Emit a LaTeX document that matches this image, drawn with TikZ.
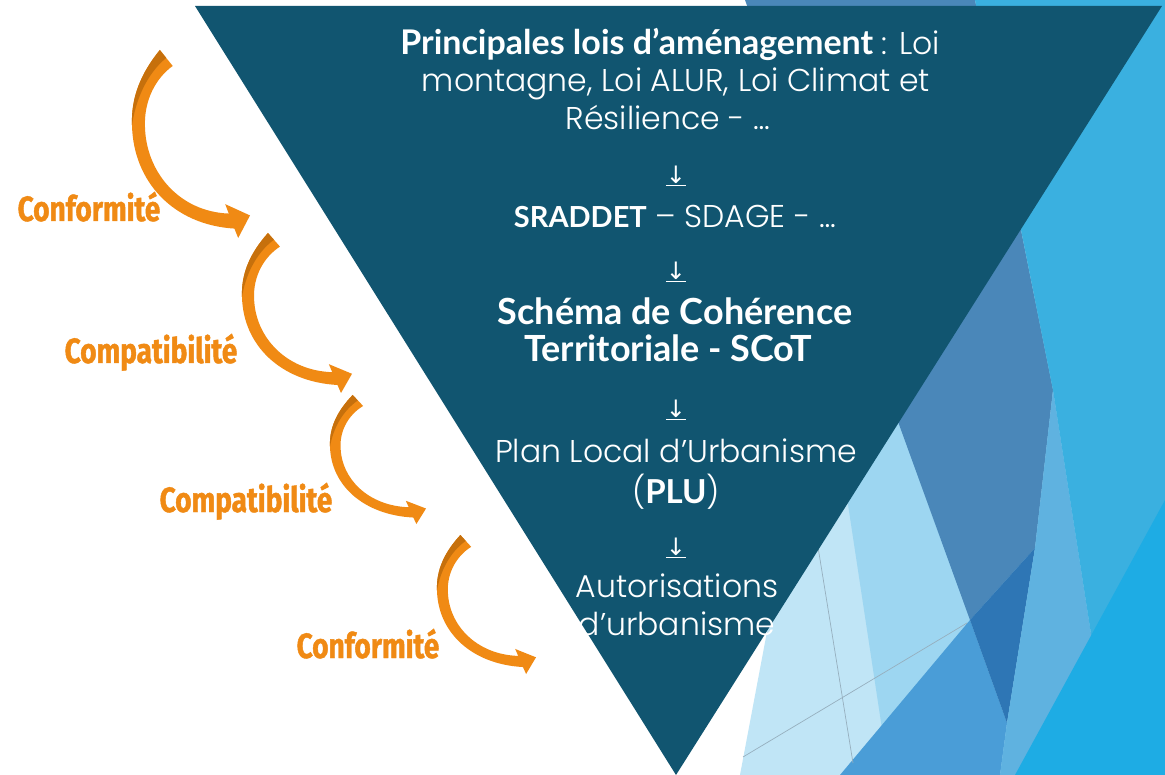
\documentclass[tikz,border=0pt]{standalone}
\usepackage{fontspec}
\setmainfont{Poppins Light}
\newfontfamily\boldf{Lato}
\newfontfamily\condfont[FakeStretch=0.8,FakeBold=1.2]{Fira Sans}
\newfontfamily\dejavu{DejaVu Sans}
\definecolor{darktri}{RGB}{17,85,112}
\definecolor{arrorange}{RGB}{240,138,20}
\definecolor{arrdark}{RGB}{198,112,12}
\definecolor{steel}{RGB}{74,135,185}
\definecolor{baseblue}{RGB}{58,176,224}
\definecolor{brightblue}{RGB}{30,172,228}
\definecolor{paleblue}{RGB}{192,229,246}
\definecolor{lightblue}{RGB}{157,214,241}
\definecolor{midblue}{RGB}{74,157,215}
\definecolor{deepblue}{RGB}{46,118,181}
\definecolor{midlight}{RGB}{95,178,224}
\definecolor{thinline}{RGB}{150,175,190}
\newcommand{\bld}[2]{{\boldf\bfseries\fontsize{#1}{40}\selectfont #2}}
\tikzset{
  curvarrow/.pic={
    \fill[arrorange] (0.236,0) .. controls (0.08,0.12) and (-0.01,0.25) .. (0,0.40)
      .. controls (0.01,0.70) and (0.35,0.93) .. (0.868,0.95) -- (0.9,1.0) -- (1,0.88)
      -- (0.79,0.82) -- (0.82,0.87) .. controls (0.40,0.86) and (0.12,0.65) .. (0.11,0.41)
      .. controls (0.10,0.27) and (0.2,0.15) .. (0.345,0.085) -- cycle;
    \fill[arrdark] (0.236,0) .. controls (0.08,0.12) and (-0.01,0.25) .. (0,0.40)
      .. controls (0.03,0.27) and (0.12,0.13) .. (0.29,0.042) -- cycle;
  },
  lab/.style={anchor=base, text=arrorange, inner sep=0pt, font=\condfont\bfseries\fontsize{35}{40}\selectfont},
  txt/.style={anchor=base, text=white, inner sep=0pt, font=\fontsize{31.5}{38}\selectfont},
  btxt/.style={anchor=base, text=white, inner sep=0pt, font=\boldf\bfseries\fontsize{36}{42}\selectfont},
  darrow/.style={text=white, inner sep=0pt, font=\dejavu\fontsize{24}{28}\selectfont}
}
\begin{document}
\begin{tikzpicture}[x=1pt,y=-1pt]
\useasboundingbox (0,0) rectangle (1165,775);
\fill[white] (0,0) rectangle (1165,775);
% background facets
\fill[paleblue] (740,775) -- (886,0) -- (1165,0) -- (1165,775) -- cycle;
\fill[lightblue] (817,300) -- (1100,300) -- (1100,775) -- (889,775) -- cycle;
\fill[steel] (745,0) -- (975,0) -- (1053,390) -- (1035,548) -- (970,620) -- cycle;
\fill[midblue] (840,775) -- (970,620) -- (1007,723) -- (1000,775) -- cycle;
\fill[deepblue] (970,620) -- (1035,548) -- (1007,723) -- cycle;
\fill[midlight] (1053,390) -- (1113,775) -- (1000,775) -- (1007,723) -- (1035,548) -- cycle;
\fill[baseblue] (975,0) -- (1165,0) -- (1165,775) -- (1113,775) -- (1053,390) -- cycle;
\fill[brightblue] (1165,500) -- (1165,775) -- (1015,775) -- cycle;
\draw[thinline, line width=0.7pt] (818,547) -- (853,763);
\draw[thinline, line width=0.7pt] (743,757) -- (967,623);
% main triangle
\fill[darktri] (195,6) -- (1162,6) -- (676,775) -- cycle;
% curved arrows
\pic[shift={(132,50)}, xscale=118, yscale=188] {curvarrow};
\pic[shift={(242,233)}, xscale=110, yscale=160] {curvarrow};
\pic[shift={(330,395)}, xscale=96, yscale=129] {curvarrow};
\pic[shift={(437,535)}, xscale=99, yscale=139] {curvarrow};
% labels
\node[lab] (c1) at (89,221) {Conformité};
\node[lab] (c2) at (151,363) {Compatibilité};
\node[lab] (c3) at (246,512) {Compatibilité};
\node[lab] (c4) at (368,658) {Conformité};
% triangle text
\node[txt] (l1) at (670,55) {\bld{34}{Principales lois d’aménagement} : Loi};
\node[txt] (l2) at (676,92) {montagne, Loi ALUR, Loi Climat et};
\node[txt] (l3) at (668,130) {Résilience - …};
\node[darrow] (a1) at (676,176) {\underline{↓}};
\node[txt] (s1) at (675,228) {\bld{29}{SRADDET} – SDAGE - …};
\node[darrow] (a2) at (676,272) {\underline{↓}};
\node[btxt] (k1) at (675,325) {Schéma de Cohérence};
\node[btxt] (k2) at (668,362) {Territoriale - SCoT};
\node[darrow] (a3) at (676,410) {\underline{↓}};
\node[txt] (p1) at (676,462) {Plan Local d’Urbanisme};
\node[txt] (p2) at (676,503) {(\bld{33}{PLU})};
\node[darrow] (a4) at (676,548) {\underline{↓}};
\node[txt] (u1) at (677,597) {Autorisations};
\node[txt] (u2) at (677,635) {d’urbanisme};
\end{tikzpicture}
\end{document}
